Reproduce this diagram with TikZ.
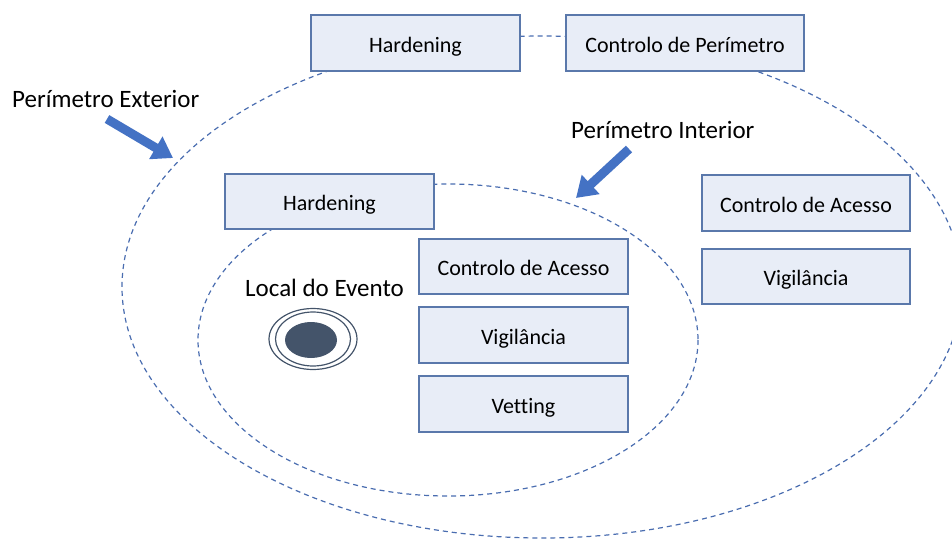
\documentclass[tikz,border=0pt]{standalone}
\usepackage{fontspec}
\setmainfont[Ligatures=NoCommon]{Carlito}
\usetikzlibrary{arrows.meta}
\definecolor{boxfill}{HTML}{E8EDF7}
\definecolor{boxline}{HTML}{5A78AB}
\definecolor{dashc}{HTML}{4A6DB0}
\definecolor{arrowc}{HTML}{4472C4}
\definecolor{targetc}{HTML}{44546A}
\begin{document}
\begin{tikzpicture}[x=1pt,y=-1pt,
  box/.style={draw=boxline, fill=boxfill, line width=1.2pt, inner sep=0pt,
    text height=18pt, text depth=0pt,
    minimum width=209pt, minimum height=56pt, font=\fontsize{22}{26}\selectfont},
  perim/.style={draw=dashc, line width=1.2pt, dash pattern=on 5pt off 4pt},
  lbl/.style={inner sep=0pt, anchor=base west, font=\fontsize{25}{30}\selectfont},
  bigarrow/.style={draw=arrowc, line width=9pt, -{Triangle[length=20pt,width=25pt]}},
  ring/.style={draw=targetc, line width=1.2pt}]
\useasboundingbox (0,0) rectangle (952,538);
\clip (0,0) rectangle (952,538);
% perimeters
\draw[perim] (542,287) ellipse [x radius=420, y radius=251];
\draw[perim] (448,340) ellipse [x radius=250, y radius=156];
% boxes
\node[box] (h1) at (415.5,43) {Hardening};
\node[box, minimum width=238pt] (c1) at (685,43) {Controlo de Perímetro};
\node[box, minimum height=55pt] (h2) at (329.5,201.5) {Hardening};
\node[box, minimum height=55pt] (ca2) at (523.5,266.5) {Controlo de Acesso};
\node[box] (v2) at (523.5,335) {Vigilância};
\node[box] (vt2) at (523.5,404) {Vetting};
\node[box, minimum width=208pt] (ca1) at (806,203) {Controlo de Acesso};
\node[box, minimum width=208pt, minimum height=55pt] (v1) at (806,276.5) {Vigilância};
% labels
\node[lbl] (pext) at (12,107) {Perímetro Exterior};
\node[lbl] (pint) at (571,138) {Perímetro Interior};
\node[lbl] (local) at (245,296) {Local do Evento};
% arrows
\coordinate (extail) at (107,119);
\coordinate (extip) at (173,158);
\coordinate (intail) at (629,149);
\coordinate (intip) at (576,198);
\draw[bigarrow] (extail) -- (extip);
\draw[bigarrow] (intail) -- (intip);
% event target
\draw[ring] (313,339) ellipse [x radius=44, y radius=30.5];
\draw[ring] (313,339) ellipse [x radius=37.5, y radius=27];
\fill[targetc] (311,340) ellipse [x radius=26, y radius=18];
\end{tikzpicture}
\end{document}
